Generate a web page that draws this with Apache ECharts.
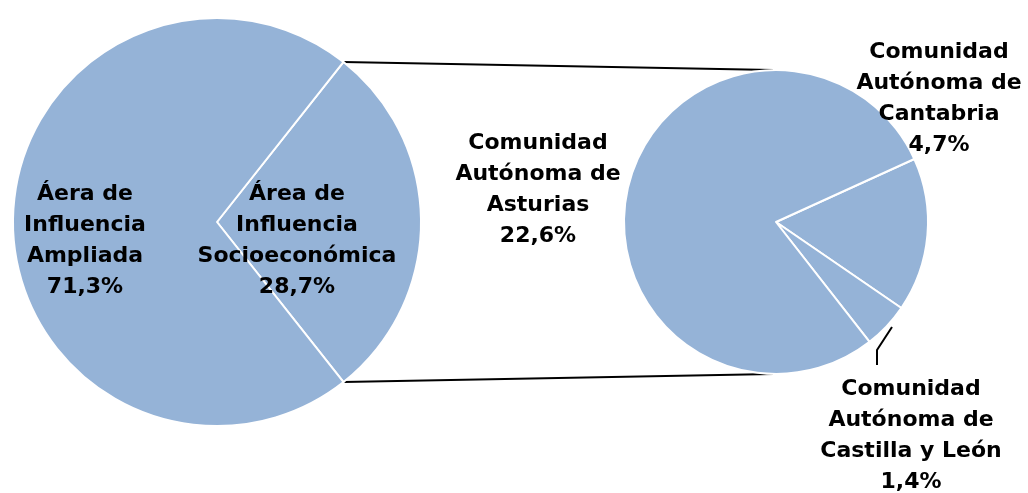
<!DOCTYPE html>
<html>
<head>
<meta charset="utf-8">
<script src="https://cdn.jsdelivr.net/npm/echarts@6/dist/echarts.min.js"></script>
<style>
  html, body { margin: 0; padding: 0; background: #fff; }
  #chart { width: 1028px; height: 493px; }
</style>
</head>
<body>
<div id="chart"></div>
<script>
// Main pie: area of influence
const mainCategories = ['Área de\nInfluencia\nSocioeconómica', 'Áera de\nInfluencia\nAmpliada'];
const mainValues = [28.7, 71.3];

// Secondary pie: breakdown of the socio-economic area by region
const subCategories = [
  'Comunidad\nAutónoma de\nCantabria',
  'Comunidad\nAutónoma de\nCastilla y León',
  'Comunidad\nAutónoma de\nAsturias'
];
const subValues = [4.7, 1.4, 22.6];

// Geometry of both pies
const mainCenter = [217, 222], mainRadius = 204;
const subCenter = [776, 222], subRadius = 152;
const subStartAngle = 24.5;

// Label anchor points
const mainLabelPos = [[297, 241], [85, 241]];
const subLabelPos = [[939, 99], [911, 436], [538, 190]];

const fill = '#95b3d7';
const fontFamily = '"DejaVu Sans", sans-serif';

const fmt = v => v.toFixed(1).replace('.', ',') + '%';

// the exploded slice is centred on 3 o'clock
const mainShare = mainValues[0] / mainValues.reduce((a, b) => a + b, 0);
const mainStartAngle = mainShare * 360 / 2;

const chart = echarts.init(document.getElementById('chart'), null, { renderer: 'canvas' });

const labelStyle = {
  color: '#000',
  fontFamily: fontFamily,
  fontWeight: 'bold',
  fontSize: 22,
  lineHeight: 31,
  align: 'center'
};

// connector lines from the split slice edge to the top/bottom of the secondary pie
const a = mainStartAngle * Math.PI / 180;
const edgeX = mainCenter[0] + mainRadius * Math.cos(a);
const edgeTopY = mainCenter[1] - mainRadius * Math.sin(a);
const edgeBotY = mainCenter[1] + mainRadius * Math.sin(a);

chart.setOption({
  animation: false,
  backgroundColor: '#fff',
  graphic: [
    {
      type: 'line', z: 0,
      shape: { x1: edgeX, y1: edgeTopY, x2: subCenter[0] - 3, y2: subCenter[1] - subRadius },
      style: { stroke: '#000', lineWidth: 2 }
    },
    {
      type: 'line', z: 0,
      shape: { x1: edgeX, y1: edgeBotY, x2: subCenter[0] - 3, y2: subCenter[1] + subRadius },
      style: { stroke: '#000', lineWidth: 2 }
    }
  ],
  series: [
    {
      type: 'pie',
      center: mainCenter,
      radius: mainRadius,
      startAngle: mainStartAngle,
      clockwise: true,
      avoidLabelOverlap: false,
      itemStyle: { color: fill, borderColor: '#fff', borderWidth: 2 },
      label: Object.assign({
        show: true,
        position: 'inside',
        formatter: p => p.name + '\n' + fmt(p.value)
      }, labelStyle),
      labelLine: { show: false },
      labelLayout: p => ({
        x: mainLabelPos[p.dataIndex][0],
        y: mainLabelPos[p.dataIndex][1],
        align: 'center',
        verticalAlign: 'middle'
      }),
      emphasis: { disabled: true },
      data: mainCategories.map((n, i) => ({ name: n, value: mainValues[i] }))
    },
    {
      type: 'pie',
      center: subCenter,
      radius: subRadius,
      startAngle: subStartAngle,
      clockwise: true,
      avoidLabelOverlap: false,
      itemStyle: { color: fill, borderColor: '#fff', borderWidth: 2 },
      label: Object.assign({
        show: true,
        position: 'outside',
        formatter: p => p.name + '\n' + fmt(p.value)
      }, labelStyle),
      labelLine: { show: false },
      labelLayout: p => {
        const out = {
          x: subLabelPos[p.dataIndex][0],
          y: subLabelPos[p.dataIndex][1],
          align: 'center',
          verticalAlign: 'middle'
        };
        if (p.dataIndex === 1) {
          out.labelLinePoints = [[892, 327], [877, 350], [877, 365]];
        }
        return out;
      },
      emphasis: { disabled: true },
      data: subCategories.map((n, i) => ({
        name: n,
        value: subValues[i],
        labelLine: i === 1
          ? { show: true, lineStyle: { color: '#000', width: 2 } }
          : { show: false }
      }))
    }
  ]
});
</script>
</body>
</html>
